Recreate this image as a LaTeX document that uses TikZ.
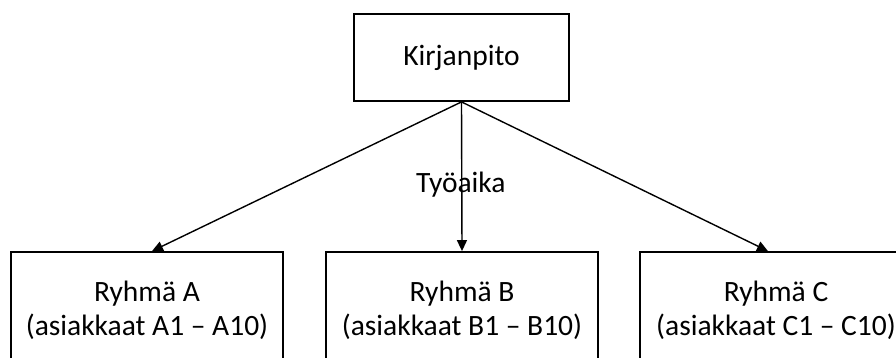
\documentclass[tikz,border=0pt]{standalone}
\usepackage{fontspec}
\setmainfont{Carlito}
\usetikzlibrary{arrows.meta}
\begin{document}
\begin{tikzpicture}[x=1pt,y=-1pt,
  box/.style={draw=black,line width=1.8pt,fill=white,inner sep=0pt,align=center,
    font=\fontsize{29.5}{34}\selectfont},
  conn/.style={line width=1.4pt,-{Triangle[length=11pt,width=10pt]}},
  lbl/.style={font=\fontsize{29.5}{34}\selectfont,inner sep=0pt}]
\useasboundingbox (0,0) rectangle (896,358);
\clip (0,0) rectangle (896,358);
\node[box,minimum width=215pt,minimum height=87pt] (K) at (461.5,57.5) {Kirjanpito};
\node[box,minimum width=272pt,minimum height=116pt] (A) at (147,310) {Ryhmä A\\(asiakkaat A1 – A10)};
\node[box,minimum width=272pt,minimum height=116pt] (B) at (462,310) {Ryhmä B\\(asiakkaat B1 – B10)};
\node[box,minimum width=272pt,minimum height=116pt] (C) at (776,310) {Ryhmä C\\(asiakkaat C1 – C10)};
\draw[conn] (K.south) -- ([xshift=5pt]A.north);
\draw[conn] (K.south) -- node[lbl,pos=0.556,xshift=-1pt] {Työaika} (B.north);
\draw[conn] (K.south) -- ([xshift=-8pt]C.north);
\end{tikzpicture}
\end{document}
